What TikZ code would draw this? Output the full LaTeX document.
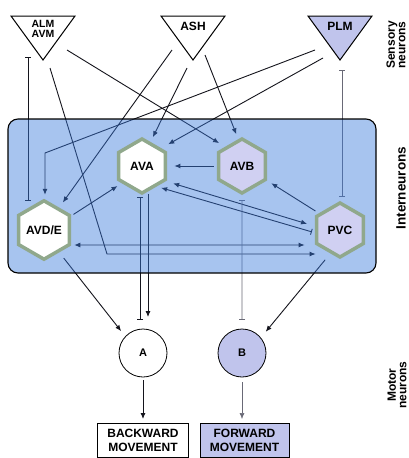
\documentclass[tikz,border=0pt]{standalone}
\usepackage{fontspec}
\setmainfont{Liberation Sans}
\usetikzlibrary{arrows.meta,shapes.geometric}
\definecolor{boxtint}{RGB}{57,122,221}
\definecolor{hexrim}{RGB}{144,168,140}
\definecolor{lav}{RGB}{208,208,242}
\definecolor{lavdeep}{RGB}{192,196,236}
\definecolor{wireink}{RGB}{20,20,28}
\definecolor{greyink}{RGB}{105,105,118}
\pgfdeclarelayer{paper}
\pgfdeclarelayer{wires}
\pgfdeclarelayer{tint}
\pgfsetlayers{paper,wires,tint,main}
\begin{document}
\begin{tikzpicture}[x=1pt,y=-1pt,
  wire/.style={draw=wireink,line width=0.9pt},
  ex/.style={wire,-{Latex[length=6pt,width=5pt]}},
  exx/.style={wire,{Latex[length=6pt,width=5pt]}-{Latex[length=6pt,width=5pt]}},
  gapj/.style={wire,{Bar[width=6pt]}-{Bar[width=6pt]}},
  faint/.style={draw=greyink,line width=0.6pt},
  tri/.style={draw=black,line width=1pt},
  trilabel/.style={align=center,inner sep=0pt,font=\fontsize{12}{10}\selectfont\bfseries},
  hex/.style={regular polygon,regular polygon sides=6,shape border rotate=30,
    minimum size=54pt,inner sep=0pt,outer sep=0pt,draw=hexrim,line width=3.5pt,
    font=\fontsize{12}{14}\selectfont\bfseries},
  motor/.style={circle,minimum size=48pt,inner sep=0pt,outer sep=0pt,draw=black,
    line width=0.8pt,font=\fontsize{11}{13}\selectfont\bfseries},
  outcome/.style={draw=black,line width=0.9pt,minimum width=91pt,minimum height=34pt,
    inner sep=0pt,outer sep=0pt,align=center,font=\fontsize{12}{14}\selectfont\bfseries},
  side/.style={rotate=90,align=center,inner sep=0pt,font=\fontsize{12}{10.5}\selectfont\bfseries}
]
\useasboundingbox (0,0) rectangle (409,458);
\begin{pgfonlayer}{paper}
  \fill[white] (0,0) rectangle (409,458);
\end{pgfonlayer}

% sensory neurons
\draw[tri,fill=white] (11,16) -- (75,16) -- (43,60) -- cycle;
\node[trilabel,font=\fontsize{10.5}{10}\selectfont\bfseries] (ALM) at (43,28.5) {ALM\\AVM};
\draw[tri,fill=white] (161,16) -- (225,16) -- (193,60) -- cycle;
\node[trilabel] (ASH) at (193,26) {ASH};
\draw[tri,fill=lavdeep] (308,16) -- (372,16) -- (340,60) -- cycle;
\node[trilabel] (PLM) at (340,26) {PLM};

% where the sensory fibres leave their cells
\coordinate (s1) at (28,57);
\coordinate (s2) at (50,68);
\coordinate (s3) at (67,50);
\coordinate (s4) at (172,50);
\coordinate (s5) at (187,68);
\coordinate (s6) at (205,55);
\coordinate (s7) at (315,50);
\coordinate (s8) at (323,58);
\coordinate (s9) at (342,70);
\coordinate (k1) at (107,254);
\coordinate (k2) at (45,153);

% interneuron panel
\begin{pgfonlayer}{tint}
  \fill[boxtint,fill opacity=0.445,rounded corners=10pt] (8,119) rectangle (376,273);
\end{pgfonlayer}
\draw[line width=1.1pt,rounded corners=10pt] (8,119) rectangle (376,273);

\node[hex,fill=white] (AVA) at (142,166) {AVA};
\node[hex,fill=lav] (AVB) at (242,166) {AVB};
\node[hex,fill=white] (AVDE) at (44,230) {AVD/E};
\node[hex,fill=lav] (PVC) at (340,230) {PVC};

% motor neurons and behaviour
\node[motor,fill=white] (A) at (143,353) {A};
\node[motor,fill=lavdeep] (B) at (242,353) {B};
\node[outcome,fill=white] (BW) at (143,440) {BACKWARD\\MOVEMENT};
\node[outcome,fill=lavdeep,minimum width=89pt] (FW) at (244.5,440) {FORWARD\\MOVEMENT};

% row labels
\node[side] (lsens) at (396,45) {Sensory\\neurons};
\node[side,font=\fontsize{13.5}{14}\selectfont\bfseries] (linter) at (401,188) {Interneurons};
\node[side] (lmotor) at (397,385) {Motor\\neurons};

% connections
\begin{pgfonlayer}{wires}
  \draw[gapj] (s1) -- (s1 |- AVDE.90);
  \draw[ex,shorten >=1pt] (s2) -- (k1) -- (k1 -| PVC.180);
  \draw[ex,shorten >=9pt] (s3) -- (AVB.130);
  \draw[ex,shorten >=8pt] (s4) -- (AVDE.56);
  \draw[ex,shorten >=7pt] (s5) -- (AVA.71);
  \draw[ex,shorten >=7pt] (s6) -- (AVB.97);
  \draw[ex,shorten >=6pt] (s7) -- (k2) -- (k2 |- AVDE.90);
  \draw[ex,shorten >=10pt] (s8) -- (AVA.44);
  \draw[faint,{Bar[width=6pt]}-{Bar[width=6pt]},shorten >=6pt] (s9) -- (s9 |- PVC.90);

  \draw[exx,shorten <=5pt,shorten >=12pt] ([yshift=-15pt]AVDE.0) -- ([yshift=-15pt]PVC.180);
  \draw[ex,shorten <=5pt,shorten >=9pt] (AVB.180) -- (AVA.0);
  \draw[ex,shorten <=6pt,shorten >=7pt] (PVC.141) -- (AVB.-30);
  \draw[exx,shorten <=10pt,shorten >=10pt] (AVA.-34) -- (PVC.172);
  \draw[wire,{Latex[length=6pt,width=5pt]}-{Bar[width=6pt]},shorten <=7pt,shorten >=5pt] (AVA.-58) -- (PVC.188);
  \draw[ex,shorten <=5pt,shorten >=7pt] (AVDE.27) -- (AVA.221);

  \draw[gapj,shorten <=4pt,shorten >=9pt] ([xshift=-2pt]AVA.270) -- ([xshift=-2pt]AVA.270 |- A.90);
  \draw[ex,shorten <=1pt,shorten >=12pt] ([xshift=6pt]AVA.270) -- ([xshift=6pt]AVA.270 |- A.90);
  \draw[faint,{Bar[width=6pt]}-{Bar[width=6pt]},shorten <=7pt,shorten >=9pt] (AVB.270) -- (B.90);
  \draw[ex,shorten <=9pt,shorten >=7pt] (AVDE.-56) -- (A.137.6);
  \draw[ex,shorten <=10pt,shorten >=8pt] (PVC.249) -- (B.39);

  \draw[ex,shorten <=3pt,shorten >=4pt] (A.270) -- (A.270 |- BW.90);
  \draw[faint,-{Latex[length=6pt,width=5pt]},shorten <=5pt,shorten >=4pt] (B.270) -- (B.270 |- FW.90);
\end{pgfonlayer}
\end{tikzpicture}
\end{document}
